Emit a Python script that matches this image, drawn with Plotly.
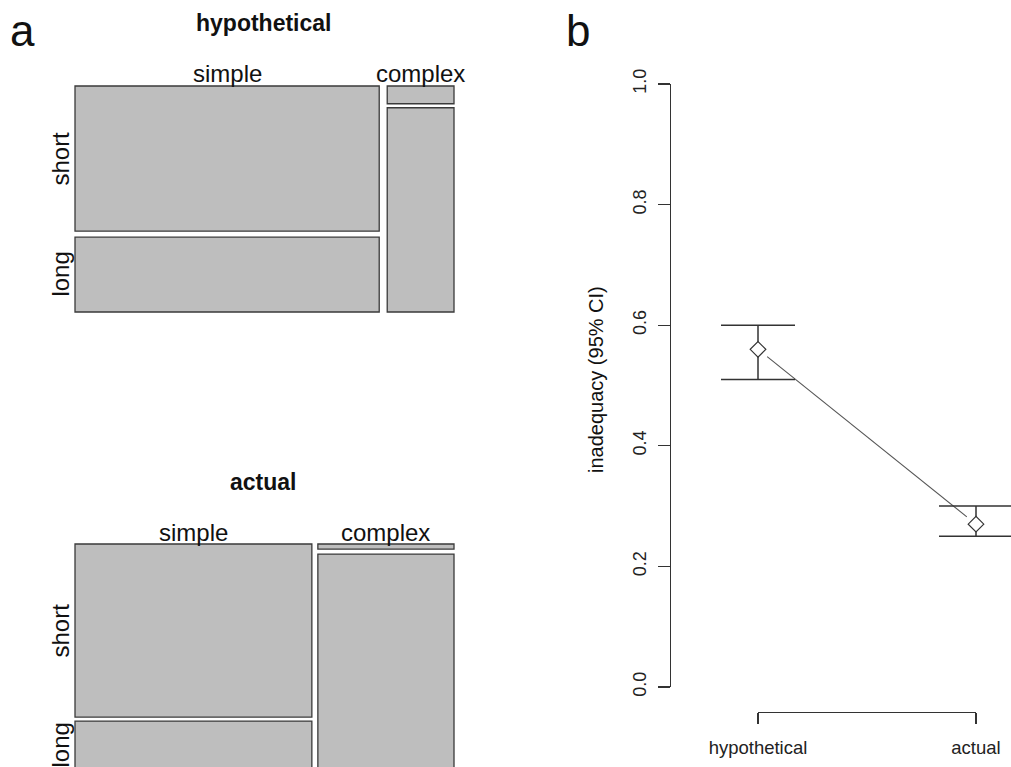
import plotly.graph_objects as go

# ---------------- data ----------------
columns = ["simple", "complex"]
rows = ["short", "long"]
# joint proportions, per column: [short, long]
hyp_props = [[0.541, 0.279], [0.0144, 0.1656]]
act_props = [[0.495, 0.140], [0.0083, 0.3567]]

conditions = ["hypothetical", "actual"]
inadequacy = [0.56, 0.27]
ci_low = [0.51, 0.25]
ci_high = [0.60, 0.30]
y_ticks = [0.0, 0.2, 0.4, 0.6, 0.8, 1.0]

# ---------------- layout constants ----------------
W_PX, H_PX = 1011, 767
FONT = "Liberation Sans, Arial, sans-serif"
FILL = "#bebebe"
EDGE = "#3a3a3a"
PAD = 3.0  # px of padding around mosaic so outlines are not clipped

def px_x(p):
    return p / W_PX

def px_y(p):
    return (H_PX - p) / H_PX

fig = go.Figure()

MOS_W = 379.0   # mosaic width in px units
MOS_H = 226.0   # mosaic height in px units

def mosaic(props, col_gap, row_gaps, xa, ya):
    total = sum(sum(c) for c in props)
    avail_w = MOS_W - col_gap * (len(props) - 1)
    x0 = 0.0
    centers = []
    row_centers = None
    for ci, col in enumerate(props):
        csum = sum(col)
        w = avail_w * csum / total
        avail_h = MOS_H - row_gaps[ci] * (len(col) - 1)
        y0 = 0.0
        rc = []
        for ri, v in enumerate(col):
            h = avail_h * v / csum
            fig.add_trace(go.Bar(
                x=[x0 + w / 2], y=[h], base=[y0], width=[w],
                marker=dict(color=FILL, line=dict(color=EDGE, width=1.3)),
                xaxis=xa, yaxis=ya, showlegend=False, hoverinfo="skip",
            ))
            rc.append(y0 + h / 2)
            y0 += h + row_gaps[ci]
        if row_centers is None:
            row_centers = rc
        centers.append(x0 + w / 2)
        x0 += w + col_gap
    return centers, row_centers

hyp_cc, hyp_rc = mosaic(hyp_props, 8, [6, 4], "x", "y")
act_cc, act_rc = mosaic(act_props, 6, [4, 5], "x2", "y2")

# ---------------- panel b ----------------
xpos = list(range(len(conditions)))
GAP = 0.042
lx = [xpos[0] + GAP * (xpos[1] - xpos[0]), xpos[1] - GAP * (xpos[1] - xpos[0])]
ly = [inadequacy[0] + GAP * (inadequacy[1] - inadequacy[0]),
      inadequacy[1] - GAP * (inadequacy[1] - inadequacy[0])]
fig.add_trace(go.Scatter(
    x=lx, y=ly, mode="lines", line=dict(color="#555555", width=1.1),
    xaxis="x3", yaxis="y3", showlegend=False, hoverinfo="skip"))
fig.add_trace(go.Scatter(
    x=xpos, y=inadequacy, mode="markers",
    marker=dict(symbol="diamond", size=12, color="white",
                line=dict(color="#333333", width=1.2)),
    error_y=dict(type="data", symmetric=False,
                 array=[h - m for h, m in zip(ci_high, inadequacy)],
                 arrayminus=[m - l for m, l in zip(inadequacy, ci_low)],
                 color="#333333", thickness=1.5, width=37),
    xaxis="x3", yaxis="y3", showlegend=False, hoverinfo="skip"))
# invisible trace for the bracket axis
fig.add_trace(go.Scatter(
    x=xpos, y=inadequacy, mode="markers", marker=dict(opacity=0),
    xaxis="x4", yaxis="y3", showlegend=False, hoverinfo="skip"))

# x axis for panel b data: hypothetical at 758 px, actual at 976 px
x_left_px, x_right_px = 671.0, 1011.0
k = (976.0 - 758.0) / (xpos[1] - xpos[0])
r0 = xpos[0] - (758.0 - x_left_px) / k
r1 = r0 + (x_right_px - x_left_px) / k

annotations = []
def ann(text, x, y, size, bold=False, angle=0, xref="paper", yref="paper", **kw):
    annotations.append(dict(
        text=("<b>%s</b>" % text) if bold else text, x=x, y=y, xref=xref, yref=yref,
        showarrow=False, textangle=angle, xanchor="center", yanchor="middle",
        font=dict(family=FONT, size=size, color="#111111"), **kw))

ann("a", px_x(22), px_y(30), 44)
ann("b", px_x(578), px_y(30), 44)
ann("hypothetical", px_x(263), px_y(23), 23, bold=True)
ann("actual", px_x(263), px_y(482), 23, bold=True)
for c, name in zip(hyp_cc, columns):
    ann(name, c, px_y(74), 24, xref="x")
for c, name in zip(act_cc, columns):
    ann(name, c, px_y(532), 24, xref="x2")
for c, name in zip(hyp_rc, rows):
    ann(name, px_x(61), c, 24, angle=-90, yref="y")
for c, name in zip(act_rc, rows):
    ann(name, px_x(61), c, 24, angle=-90, yref="y2")
ann("inadequacy (95% CI)", px_x(596), px_y(380), 20, angle=-90)

hidden = dict(visible=False, showgrid=False, zeroline=False, fixedrange=True)

fig.update_layout(
    width=W_PX, height=H_PX,
    margin=dict(l=0, r=0, t=0, b=0, autoexpand=False),
    paper_bgcolor="white", plot_bgcolor="rgba(0,0,0,0)",
    barmode="overlay", bargap=0,
    font=dict(family=FONT, color="#111111"),
    annotations=annotations,
    xaxis=dict(hidden, domain=[px_x(75 - PAD), px_x(454 + PAD)],
               range=[-PAD, MOS_W + PAD], anchor="y"),
    yaxis=dict(hidden, domain=[px_y(312 + PAD), px_y(86 - PAD)],
               range=[MOS_H + PAD, -PAD], anchor="x"),
    xaxis2=dict(hidden, domain=[px_x(75 - PAD), px_x(454 + PAD)],
                range=[-PAD, MOS_W + PAD], anchor="y2"),
    yaxis2=dict(hidden, domain=[0, px_y(544 - PAD)],
                range=[H_PX - 544, -PAD], anchor="x2"),
    xaxis3=dict(hidden, domain=[px_x(671), 1.0], range=[r0, r1], anchor="y3"),
    yaxis3=dict(domain=[px_y(687), px_y(84)], range=[0, 1], anchor="x3",
                showline=True, linecolor="#333333", linewidth=1.3,
                ticks="outside", ticklen=12, tickwidth=1.3, tickcolor="#333333",
                tickvals=y_ticks, ticktext=["%.1f" % v for v in y_ticks],
                tickangle=-90, ticklabelstandoff=5,
                tickfont=dict(family=FONT, size=18, color="#222222"),
                showgrid=False, zeroline=False, fixedrange=True),
    xaxis4=dict(domain=[px_x(758), px_x(976)], range=[xpos[0], xpos[1]],
                anchor="free", position=px_y(712),
                showline=True, linecolor="#333333", linewidth=1.3,
                ticks="outside", ticklen=11, tickwidth=1.3, tickcolor="#333333",
                tickvals=xpos, ticktext=conditions, ticklabelstandoff=7,
                tickfont=dict(family=FONT, size=18.5, color="#222222"),
                showgrid=False, zeroline=False, fixedrange=True),
)

fig.write_html("out.html", config={"displayModeBar": False, "staticPlot": True},
               post_script="document.body.style.margin='0';document.body.style.padding='0';")
